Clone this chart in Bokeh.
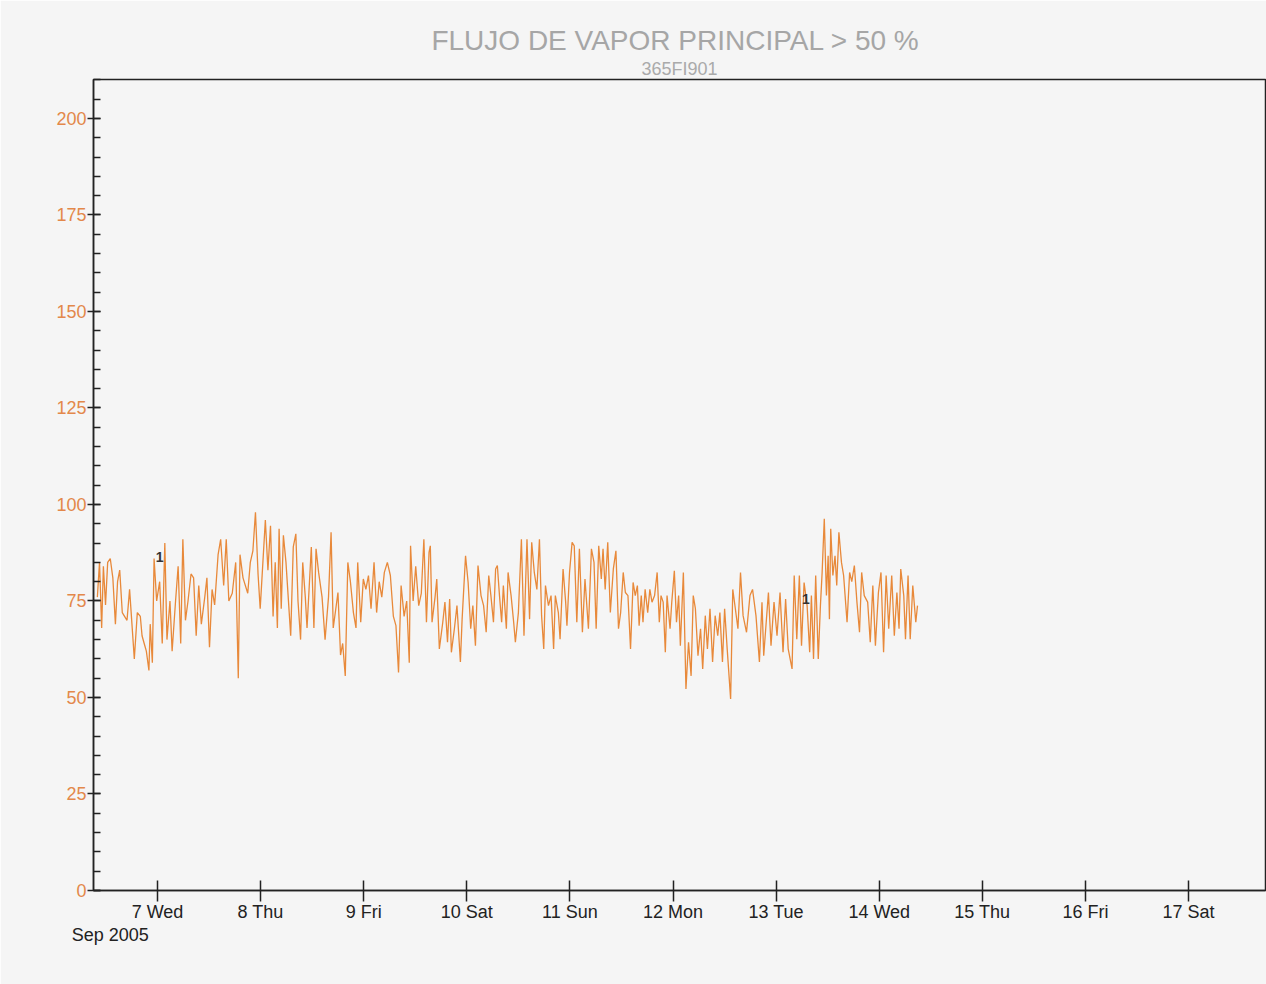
from bokeh.plotting import figure
from bokeh.models import Range1d, FixedTicker, LinearAxis, Title
from bokeh.core.properties import value
from bokeh.embed import file_html
from bokeh.resources import INLINE

# hours since 6 Sep 2005 00:00
hours = [
    10.0, 10.5, 11.0, 11.4, 11.9, 12.4, 13.0, 13.6, 14.2, 14.7, 15.2, 15.8, 16.9, 17.5, 18.6,
    19.3, 20.0, 20.4, 20.9, 21.4, 22.0, 22.3, 22.8, 23.2, 23.8, 24.5, 25.1, 25.7, 26.2, 26.9,
    27.4, 28.2, 28.8, 29.4, 29.9, 30.5, 31.1, 31.8, 32.4, 33.0, 33.6, 34.2, 35.0, 35.5, 36.1,
    36.7, 37.3, 38.1, 38.7, 39.4, 40.0, 40.6, 41.4, 42.2, 42.8, 43.2, 43.9, 45.0, 45.6, 46.2,
    46.8, 47.4, 47.9,
    49.1, 49.7, 50.3, 50.9, 51.4, 51.9, 52.3, 52.8, 53.3, 53.9, 55.0, 55.6, 56.2, 56.7, 57.3,
    57.8, 58.4, 58.8, 59.8, 60.4, 60.9, 61.5, 62.3, 63.0, 63.8, 64.4, 64.9, 65.5, 66.0, 66.6,
    67.1, 67.7, 68.3, 68.9, 69.6, 70.2, 70.6, 71.3, 71.9, 72.5, 73.1, 73.7, 74.4, 75.0, 75.6,
    76.2, 76.8, 77.5, 78.2, 78.9, 79.5, 80.1, 80.7, 81.4, 82.0, 82.6, 82.9, 83.5, 84.1, 84.8,
    85.4, 86.0, 86.6, 87.2,
    87.5, 87.9, 88.6, 89.0, 89.6, 90.4, 90.9, 91.5, 92.0, 92.4, 93.1, 93.7, 94.5, 94.9, 95.7,
    96.3, 96.9, 97.4, 98.0, 98.6, 99.3, 99.9, 100.5, 101.1, 101.6, 102.2, 102.7, 103.1, 103.6,
    104.1, 104.5, 105.2, 105.6, 106.3, 106.9, 107.3, 108.0, 108.7, 109.3, 110.0, 110.6, 111.1,
    111.7, 112.3, 112.9, 113.4, 113.9, 114.3, 115.0, 115.6, 116.2, 116.6, 117.3, 117.7, 118.4,
    119.0, 119.3, 119.9, 120.5, 121.0, 121.6, 122.2, 122.9, 123.5, 124.3, 125.0, 125.6, 126.1,
    126.7, 127.3, 127.7, 128.2, 128.8, 129.4, 130.1, 130.7, 131.3, 131.8, 132.4, 132.9, 133.5,
    134.1, 134.7, 135.2, 135.7, 136.1, 136.6, 137.0, 137.5, 138.1, 138.6, 139.1, 139.7, 140.3,
    140.8, 141.2, 141.7, 142.2, 142.6, 143.3, 143.7, 144.3, 144.8, 145.3, 145.7, 146.4, 147.0,
    147.6, 148.2, 148.7, 149.2, 149.8, 150.4, 150.9, 151.5, 152.0, 152.6, 153.2, 153.8, 154.4,
    154.9, 155.5, 156.0, 156.6, 157.4, 157.9, 158.5, 159.1, 159.7, 160.3, 161.1, 161.9, 162.5,
    163.3, 164.1, 164.7,
    165.1, 166.2, 166.8, 167.5, 168.2, 168.9, 169.6, 170.2, 170.8, 171.7, 172.2, 172.8, 173.4,
    173.9, 174.5, 175.2, 175.8, 176.2, 176.7, 177.2, 177.8, 178.3, 178.7, 179.2, 179.7, 180.1,
    180.4, 180.7, 181.2, 181.7, 182.1, 182.6, 183.2, 183.7, 184.5, 185.1, 185.6, 186.2, 186.8,
    187.4, 187.9, 188.5, 189.3, 189.9, 190.5, 191.1, 191.8, 192.4, 193.0, 193.6, 194.2, 194.9,
    195.5, 196.1, 196.6, 197.0, 197.7, 198.1, 198.7, 199.2, 199.8, 200.5, 200.9,
]

flow = [
    76, 85, 68, 84, 74, 85, 86, 81, 69, 80, 83, 72, 70, 78, 60,
    72, 71, 66, 64, 62, 57, 69, 59, 86, 75, 80, 64, 90, 65, 75,
    62, 75, 84, 64, 91, 70, 75, 82, 81, 66, 79, 69, 76, 81, 63,
    78, 74, 87, 91, 79, 91, 75, 77, 85, 55, 87, 81, 77, 85, 88,
    98, 82, 73,
    96, 83, 94.5, 71, 85, 68, 93.7, 73, 92, 85, 66, 89, 92.4, 75, 65,
    85, 76, 68, 89, 68, 88.5, 82.4, 76, 65, 76, 92.8, 68, 73, 77.2, 61,
    64, 55.6, 85, 80, 72, 68, 85, 69.5, 80.7, 78, 81.6, 73, 85, 72, 80,
    76, 82.4, 85, 81.6, 71, 68.6, 56.5, 79, 71, 75, 59, 89.3, 75, 84, 73.8,
    77, 91, 69.5, 87.6,
    89.3, 69.5, 76, 80.7, 62.6, 69.5, 74.7, 64.3, 75.5, 61.7, 67.8, 73.8, 59.2, 70.3, 86.7,
    79.8, 67.8, 73.8, 63.4, 84.2, 76.4, 73.8, 66.9, 81.6, 76.4, 69.5, 83.3, 84.2, 76.4,
    69.5, 79, 67.8, 82.4, 76.4, 69.5, 64.3, 72, 91, 66, 91, 70.3, 90.2,
    82.4, 78, 91, 71.2, 62.6, 79, 73.8, 76.4, 62.6, 76.4, 72, 65.1, 83.3,
    74.7, 68.6, 82.4, 90.2, 89.3, 69.5, 88.5, 66.9, 80.7, 67.8, 88.5, 85, 67.8,
    89.3, 80.7, 88.5, 78, 90.2, 72, 83.3, 88, 67.8, 72, 82.4, 77.2, 76.4,
    62.6, 79.8, 76.4, 79, 68.6, 76.4, 69.5, 78, 72, 78, 74.7, 76.4, 82.4,
    69.5, 76.4, 74.7, 61.7, 76.4, 67.8, 74.7, 82.8, 69.5, 76.4, 63.4, 82.4, 52.2,
    64.3, 55.6, 76.4, 73, 60.8, 67.8, 57.4, 71.2, 62.6, 73, 59.2, 71.2, 66,
    72, 59.2, 73, 62.6, 49.6, 78, 73, 67.8, 82.4, 71.2, 66.9, 76.4, 78,
    71.2, 59.2, 74.7,
    60.8, 77.2, 63.4, 74.7, 66, 77.2, 61.7, 75.5, 62.6, 57.4, 81.6, 65.1, 81.6,
    63.4, 79.8, 73.8, 61.7, 76.4, 60, 81.6, 60, 73.8, 82.4, 96.3, 76.4, 86.7,
    70.3, 93.7, 81.6, 86.7, 79, 92.8, 85, 81.6, 69.5, 82.4, 80, 84.2, 74.7,
    66.9, 82.4, 76.4, 74.7, 64.3, 79, 63.4, 77.2, 82.4, 61.7, 81.6, 67.8, 81.6,
    66, 77.2, 67.8, 83.3, 76.4, 65.1, 81.6, 65.1, 79, 69.5, 73.8,
]

day_ticks = [24, 48, 72, 96, 120, 144, 168, 192, 216, 240, 264]
day_labels = ["7 Wed", "8 Thu", "9 Fri", "10 Sat", "11 Sun", "12 Mon",
              "13 Tue", "14 Wed", "15 Thu", "16 Fri", "17 Sat"]
month_tick = [13]
month_label = ["Sep 2005"]
y_ticks = [0, 25, 50, 75, 100, 125, 150, 175, 200]
y_minor = list(range(0, 211, 5))
event_hours = [23.6, 174.0]
event_values = [86.3, 75.6]
event_labels = ["1", "1"]

FONT = "Liberation Sans"
LINE = "#e8893a"
YLAB = "#e3884a"
BG = "#f5f5f5"

p = figure(width=1266, height=984, output_backend="svg", toolbar_location=None,
           x_range=Range1d(9.1, 281.9), y_range=Range1d(0, 210.1),
           min_border_left=93, min_border_right=1, min_border_top=79,
           min_border_bottom=94, title_location=None,
           background_fill_color=BG, border_fill_color=BG)
p.xgrid.visible = False
p.ygrid.visible = False
p.outline_line_color = "#222222"
p.outline_line_width = 1.5

# titles
sub = Title(text="365FI901", align="center", text_font_size="18px",
            text_color="#aaaaaa", text_font_style="normal", text_font=FONT, standoff=2)
p.add_layout(sub, "above")
main = Title(text="FLUJO DE VAPOR PRINCIPAL  > 50 %", align="center", text_font_size="28px",
             text_color="#a6a6a6", text_font_style="normal", text_font=FONT, standoff=0)
p.add_layout(main, "above")

# y axis
ya = p.yaxis[0]
ya.ticker = FixedTicker(ticks=y_ticks, minor_ticks=y_minor)
ya.axis_line_color = "#222222"
ya.axis_line_width = 1.5
ya.major_tick_line_color = "#222222"
ya.major_tick_line_width = 1.5
ya.major_tick_in = 7
ya.major_tick_out = 6
ya.minor_tick_line_color = "#222222"
ya.minor_tick_line_width = 1.5
ya.minor_tick_in = 7
ya.minor_tick_out = 0
ya.major_label_standoff = 1
ya.major_label_text_color = YLAB
ya.major_label_text_font = FONT
ya.major_label_text_font_size = "18px"

# x axis
xa = p.xaxis[0]
xa.ticker = FixedTicker(ticks=day_ticks, minor_ticks=[])
xa.major_label_overrides = dict(zip(day_ticks, day_labels))
xa.axis_line_color = "#222222"
xa.axis_line_width = 1.5
xa.major_tick_line_color = "#222222"
xa.major_tick_line_width = 1.5
xa.major_tick_in = 10
xa.major_tick_out = 11
xa.minor_tick_line_color = None
xa.major_label_standoff = 0
xa.major_label_text_color = "#222222"
xa.major_label_text_font = FONT
xa.major_label_text_font_size = "18px"

ma = LinearAxis(ticker=FixedTicker(ticks=month_tick, minor_ticks=[]),
                major_label_overrides=dict(zip(month_tick, month_label)),
                axis_line_color=None, major_tick_line_color=None, minor_tick_line_color=None,
                major_tick_in=0, major_tick_out=0, major_label_standoff=0,
                major_label_text_color="#222222", major_label_text_font=FONT,
                major_label_text_font_size="18px")
p.add_layout(ma, "below")

p.line(hours, flow, line_color=LINE, line_width=1.3)
p.text(x=event_hours, y=event_values, text=event_labels, text_font=value(FONT),
       text_font_size="14px", text_font_style="bold", text_color="#333333",
       text_align="left", text_baseline="middle")

open("out.html", "w").write(file_html(p, INLINE))
